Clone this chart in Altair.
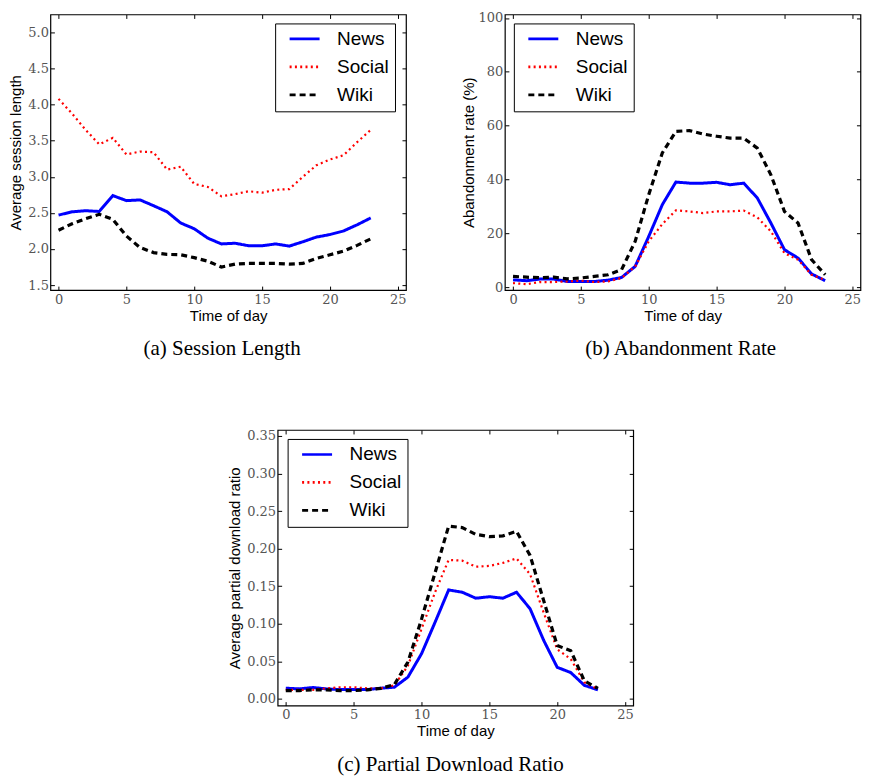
import altair as alt
import pandas as pd

hours = list(range(24))
series = ["News", "Social", "Wiki"]

# (a) Session length
session_news = [2.47, 2.515, 2.53, 2.52, 2.74, 2.67, 2.68, 2.60, 2.515, 2.36, 2.28, 2.15,
                2.07, 2.08, 2.045, 2.045, 2.07, 2.04, 2.10, 2.165, 2.20, 2.25, 2.335, 2.43]
session_social = [4.08, 3.875, 3.65, 3.45, 3.54, 3.31, 3.35, 3.34, 3.10, 3.14, 2.90, 2.86,
                  2.73, 2.76, 2.80, 2.78, 2.82, 2.83, 3.00, 3.16, 3.24, 3.30, 3.48, 3.65]
session_wiki = [2.26, 2.35, 2.42, 2.48, 2.41, 2.18, 2.02, 1.95, 1.925, 1.92, 1.88, 1.83,
                1.75, 1.79, 1.80, 1.80, 1.80, 1.79, 1.80, 1.87, 1.92, 1.97, 2.05, 2.14]

# (b) Abandonment rate (%)
aband_news = [2.8, 2.5, 3.1, 3.1, 2.2, 2.2, 2.2, 2.7, 3.7, 7.8, 18.9, 30.7,
              39.1, 38.7, 38.7, 39.0, 38.1, 38.7, 33.2, 23.9, 14.0, 10.9, 5.0, 2.5]
aband_social = [1.6, 1.2, 2.0, 2.0, 2.2, 2.5, 2.0, 2.2, 3.5, 7.8, 17.1, 23.5,
                28.6, 28.2, 27.6, 28.2, 28.2, 28.5, 26.0, 20.8, 12.7, 10.3, 4.7, 2.8]
aband_wiki = [4.1, 3.8, 3.6, 3.8, 3.2, 3.5, 4.1, 4.7, 6.6, 17.1, 34.4, 49.9,
              57.9, 58.2, 56.9, 56.1, 55.4, 55.4, 51.7, 41.8, 28.2, 23.9, 10.3, 4.7]

# (c) Partial download ratio
partial_news = [0.0142, 0.0133, 0.0151, 0.0133, 0.0124, 0.0124, 0.0124, 0.0142, 0.0155, 0.029, 0.060, 0.102,
                0.145, 0.142, 0.134, 0.136, 0.134, 0.142, 0.120, 0.078, 0.042, 0.035, 0.018, 0.012]
partial_social = [0.012, 0.012, 0.012, 0.014, 0.0155, 0.0155, 0.014, 0.014, 0.018, 0.044, 0.093, 0.142,
                  0.185, 0.184, 0.176, 0.177, 0.181, 0.187, 0.166, 0.115, 0.066, 0.053, 0.022, 0.013]
partial_wiki = [0.011, 0.011, 0.012, 0.012, 0.011, 0.011, 0.012, 0.014, 0.019, 0.049, 0.106, 0.168,
                0.230, 0.228, 0.219, 0.216, 0.217, 0.223, 0.191, 0.131, 0.071, 0.064, 0.024, 0.014]

x_ticks = [0, 5, 10, 15, 20, 25]
colors = ["#0000ff", "#ff0000", "#000000"]
dashes = [[1, 0], [2, 3.3], [6, 4]]
widths = {"News": 3.0, "Social": 2.2, "Wiki": 3.2}
X_DOM = [-0.6, 25.6]
PW, PH = 356, 276


def make_df(news, social, wiki):
    rows = []
    for s, vals in zip(series, [news, social, wiki]):
        for h, v in zip(hours, vals):
            rows.append({"hour": h, "value": v, "series": s, "lw": widths[s]})
    return pd.DataFrame(rows)


def panel(df, ytitle, ydom, yticks, yfmt, lx, ly, caption, cap_dx, ytp):
    xs = alt.Scale(domain=X_DOM, nice=False, zero=False)
    ys = alt.Scale(domain=ydom, nice=False, zero=False)
    leg = alt.Legend(title=None, orient="none", legendX=lx, legendY=ly,
                     symbolType="M-2,0H2", symbolSize=225, symbolStrokeWidth=2.6,
                     symbolFillColor="transparent",
                     labelFont="Liberation Sans", labelFontSize=19, labelColor="black",
                     strokeColor="black", fillColor="white", padding=6,
                     symbolOffset=14, labelOffset=23, rowPadding=8, cornerRadius=0)
    base = alt.Chart(df)
    lines = base.mark_line().encode(
        x=alt.X("hour:Q", scale=xs,
                axis=alt.Axis(orient="bottom", values=x_ticks, format="d", title="Time of day",
                              offset=-4, tickSize=4, labelPadding=3, titlePadding=2,
                              domain=False, grid=False)),
        y=alt.Y("value:Q", scale=ys,
                axis=alt.Axis(orient="left", values=yticks, format=yfmt, title=ytitle,
                              offset=-4, tickSize=4, labelPadding=2, titlePadding=ytp,
                              domain=False, grid=False)),
        color=alt.Color("series:N", scale=alt.Scale(domain=series, range=colors), legend=leg),
        strokeDash=alt.StrokeDash("series:N", scale=alt.Scale(domain=series, range=dashes), legend=leg),
        strokeWidth=alt.StrokeWidth("lw:Q", scale=None, legend=None),
    )
    ticks = base.mark_line(strokeOpacity=0).encode(
        x=alt.X("hour:Q", scale=xs,
                axis=alt.Axis(orient="top", values=x_ticks, labels=False, title=None,
                              offset=-4, tickSize=4, domain=False, grid=False,
                              minExtent=0, maxExtent=4)),
        y=alt.Y("value:Q", scale=ys,
                axis=alt.Axis(orient="right", values=yticks, labels=False, title=None,
                              offset=-4, tickSize=4, domain=False, grid=False,
                              minExtent=0, maxExtent=4)),
    )
    return alt.layer(lines, ticks).resolve_axis(x="independent", y="independent").properties(
        width=PW, height=PH,
        title=alt.TitleParams(caption, orient="bottom", font="Liberation Serif", fontSize=21,
                              fontWeight="normal", color="black", offset=15, dx=cap_dx,
                              frame="group", anchor="middle"),
    )


a = panel(make_df(session_news, session_social, session_wiki), "Average session length",
          [1.43, 5.25], [1.5, 2.0, 2.5, 3.0, 3.5, 4.0, 4.5, 5.0], ".1f", 225, 9,
          "(a) Session Length", -6, 4)
b = panel(make_df(aband_news, aband_social, aband_wiki), "Abandonment rate (%)",
          [-1.0, 101.3], [0, 20, 40, 60, 80, 100], "d", 9, 9,
          "(b) Abandonment Rate", -2, 2)
c = panel(make_df(partial_news, partial_social, partial_wiki), "Average partial download ratio",
          [-0.009, 0.358], [0.0, 0.05, 0.10, 0.15, 0.20, 0.25, 0.30, 0.35], ".2f", 10, 9,
          "(c) Partial Download Ratio", -5, 4)

top = alt.hconcat(a, b, spacing=52).resolve_scale(
    color="independent", strokeDash="independent").resolve_legend(
    color="independent", strokeDash="independent")

chart = alt.vconcat(top, c, spacing=68, center=True).resolve_scale(
    color="independent", strokeDash="independent").resolve_legend(
    color="independent", strokeDash="independent").properties(
    padding={"left": 0, "top": 2, "right": 0, "bottom": 0}
).configure_view(stroke="black", strokeWidth=1.2).configure_axis(
    labelFont="DejaVu Serif", labelFontSize=13, labelColor="#555",
    titleFont="Liberation Sans", titleFontSize=15, titleFontWeight="normal", titleColor="black",
    tickColor="black", tickWidth=1
).configure_legend(strokeWidth=1)

chart.save("out.html", embed_options={"renderer": "svg", "actions": False})
